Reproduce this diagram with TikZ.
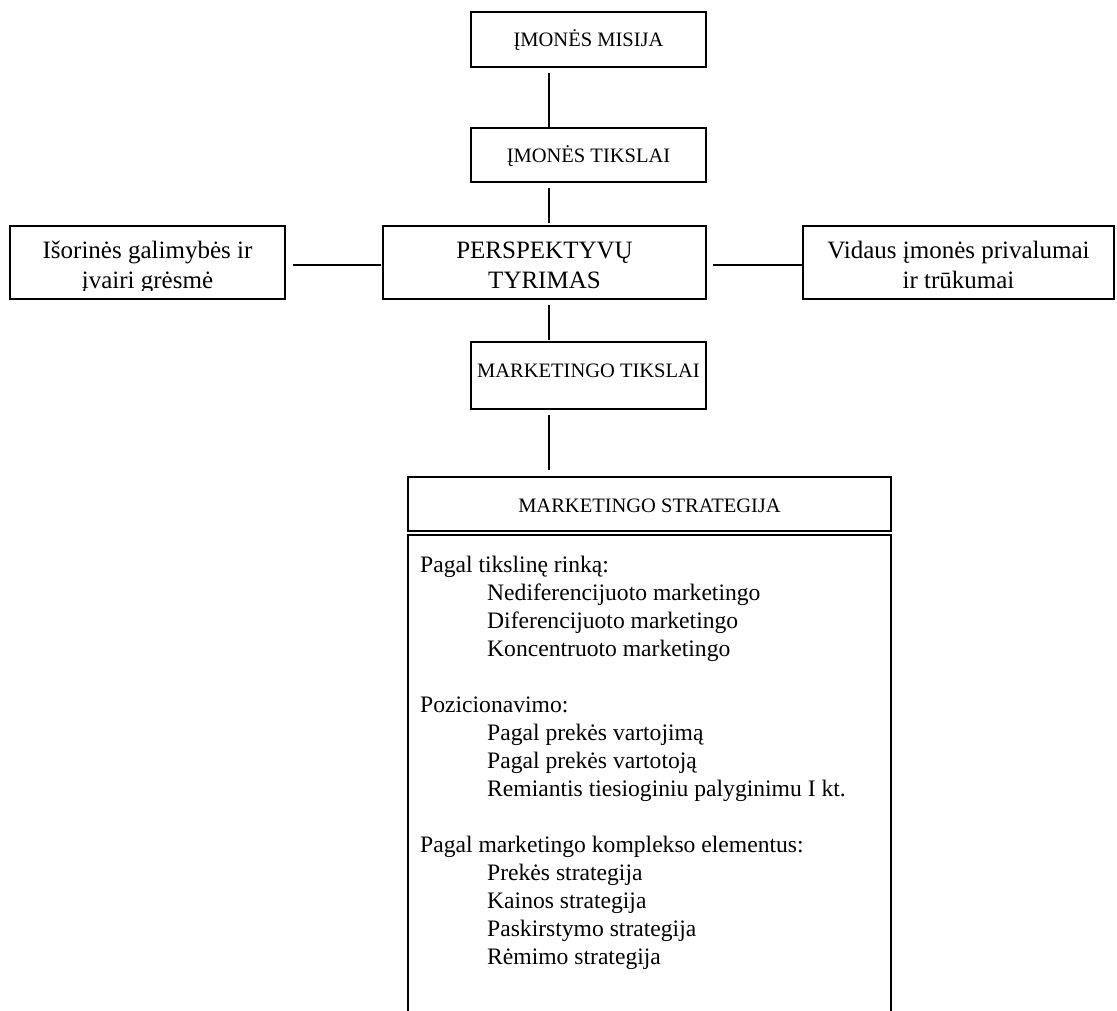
\documentclass[tikz,border=0pt]{standalone}
\usepackage{fontspec}
\setmainfont{Liberation Serif}
\begin{document}
\begin{tikzpicture}[x=1pt,y=-1pt,
  box/.style={draw, line width=1.2pt, inner sep=0pt, outer sep=0pt, anchor=north west},
  txt/.style={inner sep=0pt, font=\fontsize{25}{28}\selectfont, anchor=base},
  title/.style={txt, font=\fontsize{20.5}{24}\selectfont},
  ltxt/.style={inner sep=0pt, font=\fontsize{23.6}{28}\selectfont, anchor=base west},
  link/.style={line width=1.2pt}]
\useasboundingbox (0,0) rectangle (1117,1011);

% boxes of the planning chain
\node[box, minimum width=235pt, minimum height=55pt] (mis) at (471,12) {};
\node[box, minimum width=235pt, minimum height=54pt] (tik) at (471,128) {};
\node[box, minimum width=323pt, minimum height=73pt] (per) at (383,226) {};
\node[box, minimum width=275pt, minimum height=73pt] (ext) at (10,226) {};
\node[box, minimum width=311pt, minimum height=73pt] (int) at (803,226) {};
\node[box, minimum width=235pt, minimum height=67pt] (mtk) at (471,342) {};
\node[box, minimum width=483pt, minimum height=54pt] (str) at (408,477) {};
\node[box, minimum width=483pt, minimum height=520pt, line width=1.6pt] (body) at (408,535) {};

% titles
\node[title] (misT) at ([yshift=-35pt]mis.north) {ĮMONĖS MISIJA};
\node[title] (tikT) at ([yshift=-35pt]tik.north) {ĮMONĖS TIKSLAI};
\node[title] (mtkT) at ([yshift=-35pt]mtk.north) {MARKETINGO TIKSLAI};
\node[title] (strT) at ([yshift=-35pt]str.north) {MARKETINGO STRATEGIJA};

% two-line texts, cut at the lower edge of their frames
\begin{scope}
  \clip (0,226) rectangle (1117,291);
  \node[txt] (perA) at ([yshift=-33pt]per.north) {PERSPEKTYVŲ};
  \node[txt] (perB) at ([yshift=-62pt]per.north) {TYRIMAS};
  \node[txt] (extA) at ([yshift=-33pt]ext.north) {Išorinės galimybės ir};
  \node[txt] (extB) at ([yshift=-62pt]ext.north) {įvairi grėsmė};
  \node[txt] (intA) at ([yshift=-33pt]int.north) {Vidaus įmonės privalumai};
  \node[txt] (intB) at ([yshift=-62pt]int.north) {ir trūkumai};
\end{scope}

% strategy list
\foreach \n/\x/\y/\t in {
  s1/420/572/{Pagal tikslinę rinką:},
  s2/487/600/{Nediferencijuoto marketingo},
  s3/487/628/{Diferencijuoto marketingo},
  s4/487/656/{Koncentruoto marketingo},
  s5/420/712/{Pozicionavimo:},
  s6/487/740/{Pagal prekės vartojimą},
  s7/487/768/{Pagal prekės vartotoją},
  s8/487/796/{Remiantis tiesioginiu palyginimu I kt.},
  s9/420/852/{Pagal marketingo komplekso elementus:},
  s10/487/880/{Prekės strategija},
  s11/487/908/{Kainos strategija},
  s12/487/936/{Paskirstymo strategija},
  s13/487/964/{Rėmimo strategija}}
  \node[ltxt] (\n) at (\x,\y) {\t};

% connectors
\coordinate (axis) at (549,0);
\draw[link] ([yshift=-6pt]mis.south -| axis) -- ([yshift=1pt]tik.north -| axis);
\draw[link] ([yshift=-6pt]tik.south -| axis) -- ([yshift=3pt]per.north -| axis);
\draw[link] ([yshift=-6pt]per.south -| axis) -- ([yshift=2pt]mtk.north -| axis);
\draw[link] ([yshift=-6pt]mtk.south -| axis) -- ([yshift=7pt]str.north -| axis);
\draw[link] ([xshift=8pt,yshift=-2.5pt]ext.east) -- ([xshift=-2pt,yshift=-2.5pt]per.west);
\draw[link] ([xshift=7pt,yshift=-2.5pt]per.east) -- ([xshift=-1pt,yshift=-2.5pt]int.west);
\end{tikzpicture}
\end{document}
